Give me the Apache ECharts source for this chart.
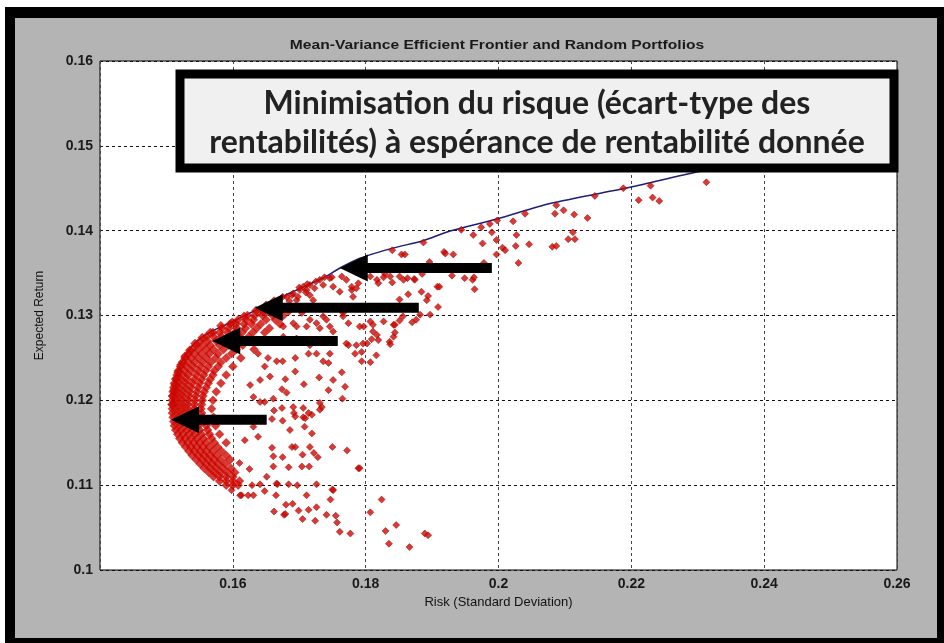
<!DOCTYPE html>
<html><head><meta charset="utf-8">
<script src="https://cdn.jsdelivr.net/npm/echarts@6/dist/echarts.min.js"></script>
<style>
html,body{margin:0;padding:0;background:#fff;}
#wrap{position:relative;width:944px;height:643px;overflow:hidden;}
#frame{position:absolute;left:5px;top:7px;width:939px;height:636px;background:#000;}
#panel{position:absolute;left:15px;top:18px;width:922px;height:620px;background:#b4b4b4;}
#c{position:absolute;left:0;top:0;width:944px;height:643px;}
</style>
</head><body>
<div id="wrap"><div id="frame"></div><div id="panel"></div><div id="c"></div></div>
<script>
// ---------- data ----------
const chartTitle = 'Mean-Variance Efficient Frontier and Random Portfolios';
const xName = 'Risk (Standard Deviation)';
const yName = 'Expected Return';
const noteLines = ['Minimisation du risque (écart-type des', 'rentabilités) à espérance de rentabilité donnée'];

// efficient frontier [risk, return]
const frontier = [[0.15084,0.11945],[0.15114,0.12122],[0.15174,0.12334],[0.15280,0.12522],[0.15430,0.12676],[0.15656,0.12805],[0.15987,0.12923],[0.16349,0.13065],[0.16861,0.13265],[0.17357,0.13442],[0.17613,0.13560],[0.17914,0.13675],[0.18411,0.13794],[0.18863,0.13882],[0.19270,0.13996],[0.19977,0.14137],[0.20775,0.14320],[0.21980,0.14512],[0.22989,0.14691],[0.2400,0.1484],[0.2500,0.1497]];

// dense crescent of random portfolios: [return, [risks...]]
const denseRows = [
 [0.1305,[0.1640,0.1652,0.1668,0.1684]],
 [0.1300,[0.1622,0.1633,0.1645,0.1660,0.1676]],
 [0.1295,[0.1608,0.1620,0.1631,0.1650,0.1664]],
 [0.1290,[0.1596,0.1605,0.1617,0.1628,0.1642,0.1671]],
 [0.1285,[0.1584,0.1594,0.1606,0.1619,0.1636,0.1655]],
 [0.1280,[0.1570,0.1580,0.1592,0.1603,0.1614,0.1630,0.1648]],
 [0.1275,[0.1560,0.1571,0.1583,0.1598,0.1609,0.1624]],
 [0.1270,[0.1551,0.1562,0.1575,0.1587,0.1601,0.1640]],
 [0.1265,[0.1545,0.1555,0.1566,0.1580,0.1594,0.1615]],
 [0.1260,[0.1538,0.1548,0.1560,0.1571,0.1586,0.1605,0.1632]],
 [0.1255,[0.1533,0.1542,0.1553,0.1565,0.1578,0.1598]],
 [0.1250,[0.1528,0.1537,0.1548,0.1560,0.1574,0.1590,0.1612]],
 [0.1245,[0.1524,0.1533,0.1543,0.1555,0.1567,0.1582]],
 [0.1240,[0.1521,0.1530,0.1540,0.1551,0.1563,0.1578,0.1600]],
 [0.1235,[0.1518,0.1527,0.1537,0.1548,0.1559,0.1572]],
 [0.1230,[0.1516,0.1524,0.1533,0.1545,0.1556,0.1570,0.1590]],
 [0.1225,[0.1514,0.1522,0.1531,0.1542,0.1553,0.1566]],
 [0.1220,[0.1512,0.1520,0.1529,0.1539,0.1550,0.1563,0.1582]],
 [0.1215,[0.1511,0.1519,0.1528,0.1537,0.1548,0.1560]],
 [0.1210,[0.1510,0.1518,0.1526,0.1535,0.1546,0.1557,0.1575]],
 [0.1205,[0.1509,0.1517,0.1525,0.1534,0.1544,0.1555]],
 [0.1200,[0.1509,0.1516,0.1524,0.1533,0.1543,0.1554,0.1570]],
 [0.1195,[0.1509,0.1516,0.1524,0.1532,0.1542,0.1553]],
 [0.1190,[0.1509,0.1516,0.1524,0.1532,0.1542,0.1552,0.1568]],
 [0.1185,[0.1509,0.1517,0.1525,0.1533,0.1543,0.1553]],
 [0.1180,[0.1510,0.1518,0.1526,0.1534,0.1544,0.1555,0.1571]],
 [0.1175,[0.1511,0.1519,0.1527,0.1536,0.1546,0.1557]],
 [0.1170,[0.1512,0.1520,0.1529,0.1538,0.1548,0.1560,0.1574]],
 [0.1165,[0.1514,0.1522,0.1531,0.1540,0.1550,0.1562]],
 [0.1160,[0.1517,0.1525,0.1534,0.1543,0.1553,0.1565,0.1580]],
 [0.1155,[0.1520,0.1528,0.1537,0.1546,0.1556,0.1568]],
 [0.1150,[0.1524,0.1532,0.1541,0.1550,0.1560,0.1572,0.1590]],
 [0.1145,[0.1529,0.1537,0.1546,0.1555,0.1565,0.1577]],
 [0.1140,[0.1534,0.1542,0.1551,0.1560,0.1570,0.1583]],
 [0.1135,[0.1539,0.1548,0.1557,0.1566,0.1576,0.1590]],
 [0.1130,[0.1545,0.1554,0.1563,0.1572,0.1582,0.1596]],
 [0.1125,[0.1551,0.1560,0.1569,0.1578,0.1589]],
 [0.1120,[0.1557,0.1566,0.1575,0.1585,0.1597]],
 [0.1115,[0.1564,0.1573,0.1582,0.1592,0.1603]],
 [0.1110,[0.1571,0.1580,0.1590,0.1600]],
 [0.1105,[0.1580,0.1590,0.1600,0.1610]],
 [0.1100,[0.1590,0.1600,0.1608]]
];

// portfolios sitting on the lower part of the frontier [risk, return]
const edgePortfolios = [[0.15084,0.1195],[0.1510,0.1205],[0.15114,0.1212],[0.1513,0.1218],[0.1515,0.1226],[0.15174,0.1233],[0.1522,0.1242],[0.1528,0.1252],[0.1535,0.1259],[0.1543,0.1267],[0.1554,0.1274],[0.1566,0.1280],[0.1582,0.1288],[0.1599,0.1292],[0.1617,0.1299],[0.1635,0.1306]];

// sparse random portfolios [risk, return]
const upperPortfolios = [[0.2313,0.1457],[0.2229,0.1453],[0.2232,0.1439],[0.2242,0.1435],[0.2211,0.1436],[0.2188,0.1450],[0.2145,0.1441],[0.2134,0.1415],[0.2114,0.1419],[0.2098,0.1424],[0.2112,0.1398],[0.2105,0.1390],[0.2115,0.1390],[0.2087,0.1430],[0.2085,0.1420],[0.2081,0.1381],[0.2087,0.1382],[0.2040,0.1420],[0.2022,0.1411],[0.2046,0.1384],[0.2027,0.1395],[0.2026,0.1382],[0.2030,0.1362],[0.2006,0.1380],[0.2010,0.1377],[0.1998,0.1412],[0.1997,0.1389],[0.1997,0.1372],[0.1990,0.1398],[0.1987,0.1408],[0.1974,0.1404],[0.1976,0.1385],[0.1962,0.1395],[0.1944,0.1401],[0.1932,0.1372],[0.1978,0.1362],[0.1930,0.1347],[0.1949,0.1344],[0.1961,0.1342],[0.1963,0.1345],[0.1964,0.1331],[0.1918,0.1375],[0.1920,0.1373],[0.1887,0.1386],[0.1896,0.1363],[0.1885,0.1349],[0.1873,0.1343],[0.1863,0.1344],[0.1854,0.1372],[0.1859,0.1372],[0.1840,0.1377],[0.1851,0.1346],[0.1840,0.1339],[0.1817,0.1342],[0.1819,0.1338],[0.1807,0.1346],[0.1829,0.1349],[0.1908,0.1334],[0.1911,0.1334],[0.1909,0.1310],[0.1884,0.1328],[0.1894,0.1323],[0.1864,0.1325],[0.1892,0.1318],[0.1851,0.1319],[0.1897,0.1301],[0.1882,0.1301],[0.1876,0.1295],[0.1870,0.1292],[0.1856,0.1299],[0.1842,0.1289],[0.1827,0.1293],[0.1811,0.1289],[0.1807,0.1293],[0.1797,0.1287]];

const middlePortfolios = [[0.1811,0.1281],[0.1802,0.1267],[0.1809,0.1272],[0.1819,0.1271],[0.1836,0.1269],[0.1837,0.1266],[0.1842,0.1275],[0.1844,0.1280],[0.1816,0.1253],[0.1807,0.1245],[0.1794,0.1257],[0.1794,0.1246],[0.1774,0.1265],[0.1786,0.1265],[0.1764,0.1233],[0.1751,0.1224],[0.1765,0.1202],[0.1769,0.1216],[0.1744,0.1212],[0.1736,0.1246],[0.1744,0.1244],[0.1730,0.1227],[0.1714,0.1255],[0.1694,0.1250],[0.1694,0.1234],[0.1707,0.1219],[0.1681,0.1209],[0.1674,0.1213],[0.1679,0.1225],[0.1731,0.1197],[0.1734,0.1192],[0.1719,0.1183],[0.1706,0.1180],[0.1692,0.1185],[0.1675,0.1176],[0.1662,0.1188],[0.1659,0.1144],[0.1689,0.1145],[0.1694,0.1145],[0.1705,0.1136],[0.1722,0.1138],[0.1728,0.1133],[0.1750,0.1145],[0.1772,0.1141],[0.1789,0.1120],[0.1675,0.1133],[0.1661,0.1122],[0.1684,0.1121],[0.1715,0.1122],[0.1610,0.1126],[0.1625,0.1119],[0.1629,0.1100],[0.1641,0.1101],[0.1667,0.1101],[0.1697,0.1100],[0.1726,0.1101],[0.1613,0.1088],[0.1623,0.1088],[0.1631,0.1088],[0.1648,0.1093],[0.1665,0.1088],[0.1680,0.1077],[0.1690,0.1078],[0.1711,0.1088],[0.1677,0.1065],[0.1662,0.1069],[0.1714,0.1071],[0.1726,0.1074],[0.1747,0.1083],[0.1751,0.1094],[0.1741,0.1065],[0.1755,0.1064],[0.1757,0.1056],[0.1705,0.1060],[0.1724,0.1058],[0.1761,0.1045],[0.1777,0.1043],[0.1598,0.1094],[0.1807,0.1068],[0.1824,0.1083],[0.1830,0.1046],[0.1846,0.1053],[0.1835,0.1031],[0.1866,0.1027],[0.1889,0.1043],[0.1894,0.1041],[0.1791,0.1120]];

const innerPortfolios = [[0.1648,0.1240],[0.1653,0.1250],[0.1638,0.1255],[0.1666,0.1246],[0.1675,0.1246],[0.1656,0.1228],[0.1641,0.1224],[0.1626,0.1218],[0.1631,0.1204],[0.1641,0.1198],[0.1648,0.1198],[0.1674,0.1191],[0.1661,0.1202],[0.1691,0.1192],[0.1706,0.1191],[0.1714,0.1185],[0.1731,0.1189],[0.1694,0.1181],[0.1709,0.1179],[0.1719,0.1161],[0.1708,0.1169],[0.1686,0.1165],[0.1659,0.1178],[0.1631,0.1169],[0.1638,0.1157],[0.1618,0.1153],[0.1716,0.1145],[0.1704,0.1122],[0.1661,0.1134],[0.1651,0.1110],[0.1666,0.1102],[0.1684,0.1101],[0.1750,0.1095],[0.1699,0.1070],[0.1679,0.1066],[0.1611,0.1088]];

const frontierPortfolios = [[0.1691,0.1326],[0.1706,0.1334],[0.1711,0.1330],[0.1716,0.1336],[0.1746,0.1344],[0.1751,0.1334],[0.1779,0.1330],[0.1781,0.1322],[0.1789,0.1338],[0.1827,0.1345],[0.1837,0.1346],[0.1857,0.1342],[0.1874,0.1342],[0.1844,0.1289],[0.1851,0.1294],[0.1791,0.1287],[0.1817,0.1277],[0.1746,0.1287],[0.1751,0.1281],[0.1731,0.1285],[0.1716,0.1295],[0.1711,0.1287],[0.1704,0.1303],[0.1736,0.1299],[0.1741,0.1295],[0.1691,0.1291],[0.1696,0.1287],[0.1676,0.1287],[0.1766,0.1303],[0.1746,0.1255],[0.1726,0.1255],[0.1716,0.1265],[0.1696,0.1273],[0.1676,0.1275],[0.1666,0.1271],[0.1771,0.1267],[0.1784,0.1255],[0.1774,0.1291],[0.1796,0.1267],[0.1749,0.1345],[0.1764,0.1346],[0.1779,0.1334],[0.1761,0.1328],[0.1689,0.1324],[0.1721,0.1318],[0.1696,0.1318],[0.1766,0.1299],[0.1726,0.1291],[0.1681,0.1322],[0.1701,0.1330],[0.1716,0.1324],[0.1731,0.1342],[0.1771,0.1342],[0.1786,0.1332],[0.1666,0.1314],[0.1656,0.1310],[0.1646,0.1304],[0.1650,0.1313],[0.1662,0.1318],[0.1675,0.1322],[0.1700,0.1333],[0.1712,0.1337],[0.1725,0.1340],[0.1738,0.1345],[0.1660,0.1307],[0.1672,0.1312],[0.1685,0.1317],[0.1698,0.1322],[0.1710,0.1327],[0.1723,0.1332],[0.1736,0.1336]];

// annotation arrows: [start risk, tip risk, return]
const arrows = [[0.1990,0.1761,0.1356],[0.1880,0.1633,0.1309],[0.1758,0.1569,0.1270],[0.1651,0.1507,0.1177]];

// ---------- build ----------
const densePortfolios = [];
denseRows.forEach(r => r[1].forEach(x => densePortfolios.push([x, r[0]])));
edgePortfolios.forEach(p => densePortfolios.push(p));
const sparsePortfolios = [].concat(upperPortfolios, middlePortfolios, innerPortfolios, frontierPortfolios);

const SANS = 'Liberation Sans, Arial, sans-serif';
const chart = echarts.init(document.getElementById('c'), null, {renderer: 'canvas'});
const labelFont = {fontFamily: SANS, fontSize: 14, fontWeight: 'bold', color: '#1a1a1a'};
chart.setOption({
  animation: false,
  backgroundColor: 'transparent',
  grid: {left: 100, right: 47, top: 61, bottom: 73, show: true, backgroundColor: '#fff', borderColor: '#000', borderWidth: 1},
  xAxis: {
    type: 'value', min: 0.14, max: 0.26, interval: 0.02,
    name: xName, nameLocation: 'middle', nameGap: 22,
    nameTextStyle: {fontFamily: SANS, fontSize: 13, color: '#111'},
    axisLine: {show: false}, axisTick: {show: false},
    axisLabel: Object.assign({margin: 7, showMinLabel: false}, labelFont),
    splitLine: {show: true, lineStyle: {color: '#444', width: 1, type: [3, 3]}}
  },
  yAxis: {
    type: 'value', min: 0.1, max: 0.16, interval: 0.01,
    name: yName, nameLocation: 'middle', nameGap: 54, nameRotate: 90,
    nameTextStyle: {fontFamily: SANS, fontSize: 12, color: '#111'},
    axisLine: {show: false}, axisTick: {show: false},
    axisLabel: Object.assign({margin: 7}, labelFont),
    splitLine: {show: true, lineStyle: {color: '#111', width: 1, type: [3, 3]}}
  },
  series: [
    {type: 'line', data: frontier, showSymbol: false, symbol: 'none', z: 2, smooth: 0.25,
     lineStyle: {color: '#1e1e78', width: 1.5}},
    {type: 'scatter', data: densePortfolios, symbol: 'diamond', symbolSize: 9, z: 3,
     itemStyle: {color: '#d20800', borderColor: '#9a0000', borderWidth: 0.3}},
    {type: 'scatter', data: sparsePortfolios, symbol: 'diamond', symbolSize: 7, z: 3,
     itemStyle: {color: '#d20800', borderColor: '#880000', borderWidth: 0.6}},
    {type: 'custom', data: arrows, z: 5, clip: false,
     encode: {x: [0, 1], y: 2},
     renderItem: function (params, api) {
       const s = api.coord([api.value(0), api.value(2)]);
       const t = api.coord([api.value(1), api.value(2)]);
       const hl = 28, hw = 13.5, sw = 5;
       return {type: 'polygon', shape: {points: [
         [t[0], t[1]], [t[0] + hl, t[1] - hw], [t[0] + hl, t[1] - sw], [s[0], t[1] - sw],
         [s[0], t[1] + sw], [t[0] + hl, t[1] + sw], [t[0] + hl, t[1] + hw]]},
         style: {fill: '#000'}};
     }}
  ],
  graphic: [
    {type: 'text', z: 50, x: 497, y: 46, scaleX: 1.3,
     style: {text: chartTitle, fontFamily: SANS, fontSize: 12, fontWeight: 'bold', fill: '#1a1a1a',
             align: 'center', verticalAlign: 'middle'}},
    {type: 'rect', z: 100, shape: {x: 180, y: 74, width: 714, height: 94},
     style: {fill: '#f0f0f0', stroke: '#000', lineWidth: 9}},
    {type: 'text', z: 101, x: 537, y: 123,
     style: {text: noteLines.join('\n'), fontFamily: 'Lato, Noto Sans, sans-serif', fontSize: 32, fontWeight: 'bold',
             lineHeight: 39, fill: '#222', align: 'center', verticalAlign: 'middle'}}
  ]
});
</script></body></html>
